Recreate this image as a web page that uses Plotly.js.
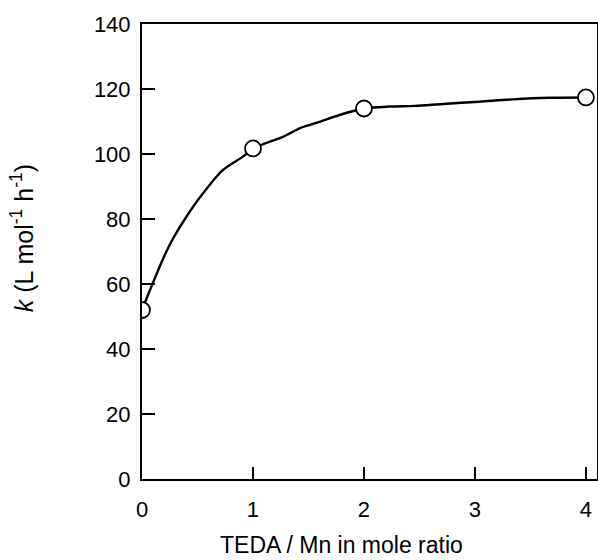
<!DOCTYPE html>
<html>
<head>
<meta charset="utf-8">
<script src="https://cdn.plot.ly/plotly-3.0.1.min.js"></script>
<style>html,body{margin:0;padding:0;background:#fff;}#chart{width:598px;height:560px;}</style>
</head>
<body>
<div id="chart"></div>
<script>
// measured points
const ratio = [0, 1, 2, 4];
const kValue = [52, 101.7, 114, 117.4];
// fitted curve
const curveX = [0, 0.1, 0.19, 0.28, 0.4, 0.55, 0.73, 0.91, 1, 1.27, 1.42, 1.6, 1.78, 2, 2.23, 2.46, 2.71, 3.04, 3.34, 3.67, 4];
const curveY = [52, 60.5, 67.8, 74, 80.7, 87.9, 95.1, 99.2, 101.7, 105.3, 107.9, 109.9, 112, 114, 114.6, 114.8, 115.4, 116.1, 116.8, 117.3, 117.4];
const xTicks = [0, 1, 2, 3, 4];
const yTicks = [0, 20, 40, 60, 80, 100, 120, 140];
const xTitle = 'TEDA / Mn in mole ratio';
const yTitle = '<i>k</i> (L mol<sup>-1</sup> h<sup>-1</sup>)';

const family = 'Liberation Sans, Arial, sans-serif';
const tickFont = {family: family, size: 22, color: '#000'};
const xTitleFont = {family: family, size: 23, color: '#000'};
const yTitleFont = {family: family, size: 25, color: '#000'};

const traces = [
  {x: curveX, y: curveY, mode: 'lines', line: {color: '#000', width: 2.4, shape: 'spline', smoothing: 0.8}, hoverinfo: 'skip'},
  {x: ratio, y: kValue, mode: 'markers', marker: {symbol: 'circle', size: 16, color: '#fff', line: {color: '#000', width: 1.8}}}
];

const layout = {
  width: 598, height: 560,
  margin: {l: 142, r: 1, t: 24, b: 81},
  paper_bgcolor: '#fff', plot_bgcolor: '#fff',
  showlegend: false,
  font: {family: family, size: 22, color: '#000'},
  xaxis: {
    range: [0, 4.1], tickvals: xTicks, ticktext: xTicks.map(String), tickfont: tickFont,
    ticks: 'inside', ticklen: 12, tickwidth: 1.5, tickcolor: '#000',
    showline: true, linecolor: '#000', linewidth: 2, mirror: true,
    showgrid: false, zeroline: false, ticklabelstandoff: 10
  },
  yaxis: {
    range: [0, 140], tickvals: yTicks, ticktext: yTicks.map(String), tickfont: tickFont,
    ticks: 'inside', ticklen: 13, tickwidth: 1.5, tickcolor: '#000',
    showline: true, linecolor: '#000', linewidth: 2, mirror: true,
    showgrid: false, zeroline: false, ticklabelstandoff: 5
  },
  annotations: [
    {text: xTitle, xref: 'paper', yref: 'paper', x: (342 - 142) / 456, y: -(545 - 479) / 455,
     xanchor: 'center', yanchor: 'middle', showarrow: false, font: xTitleFont},
    {text: yTitle, xref: 'paper', yref: 'paper', x: -(142 - 22) / 456, y: (479 - 238) / 455,
     xanchor: 'center', yanchor: 'middle', showarrow: false, textangle: -90, font: yTitleFont}
  ]
};

Plotly.newPlot('chart', traces, layout, {displayModeBar: false, staticPlot: true});
</script>
</body>
</html>
